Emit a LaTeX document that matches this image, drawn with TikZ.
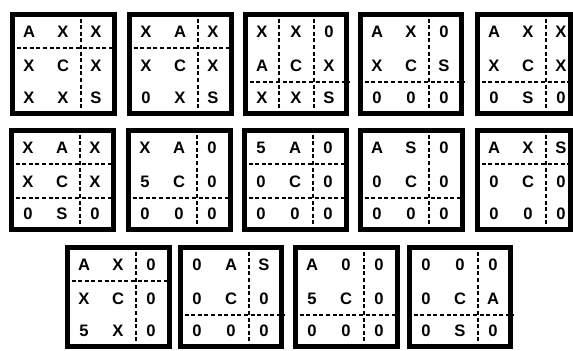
\documentclass[tikz,border=0pt]{standalone}
\usepackage{fontspec}
\setmainfont{Liberation Sans}
\usepackage{tikz}
\usetikzlibrary{calc}

\begin{document}
\begin{tikzpicture}[x=0.5pt,y=-0.5pt,
    board/.style={line width=2.4pt},
    gridline/.style={line width=0.6pt, dash pattern=on 2pt off 1.3pt},
    tile/.style={font=\bfseries\fontsize{8.3}{9}\selectfont, inner sep=0pt}]

\useasboundingbox (0,0) rectangle (573,350);

\def\H{104}

% Boards: number / left / top / width / nine tiles / dashed v1, h1, h2
\foreach \n/\bx/\by/\w/\ta/\tb/\tc/\td/\te/\tf/\tg/\th/\ti/\va/\ha/\hb in {
    1/10/12/107/A/X/X/X/C/X/X/X/S/0/1/0,
    2/127/12/107/X/A/X/X/C/X/0/X/S/0/1/0,
    3/243/12/106/X/X/0/A/C/X/X/X/S/1/0/1,
    4/358/12/106/A/X/0/X/C/S/0/0/0/0/0/1,
    5/475/12/98/A/X/X/X/C/X/0/S/0/0/0/1,
    6/9/128/107/X/A/X/X/C/X/0/S/0/0/1/1,
    7/126/128/107/X/A/0/5/C/0/0/0/0/0/0/1,
    8/242/128/107/5/A/0/0/C/0/0/0/0/0/1/1,
    9/358/128/107/A/S/0/0/C/0/0/0/0/0/0/1,
    10/475/128/98/A/X/S/0/C/0/0/0/0/0/1/0,
    11/65/245/107/A/X/0/X/C/0/5/X/0/0/1/0,
    12/178/245/106/0/A/S/0/C/0/0/0/0/0/0/1,
    13/293/245/107/A/0/0/5/C/0/0/0/0/0/0/1,
    14/407/245/106/0/0/0/0/C/A/0/S/0/0/0/1}
{
    % Dashed cell borders
    \draw[gridline] (\bx+71,\by) -- (\bx+71,\by+\H);
    \ifnum\va=1 \draw[gridline] (\bx+36,\by) -- (\bx+36,\by+\H); \fi
    \ifnum\ha=1 \draw[gridline] (\bx,\by+36) -- (\bx+\w,\by+36); \fi
    \ifnum\hb=1 \draw[gridline] (\bx,\by+70) -- (\bx+\w,\by+70); \fi

    % Frame
    \draw[board] (\bx+2.4,\by+2.4) rectangle (\bx+\w-2.4,\by+\H-2.4);

    % Tiles
    \node[tile] (b\n-1) at (\bx+19,\by+20) {\ta};
    \node[tile] (b\n-2) at (\bx+53,\by+20) {\tb};
    \node[tile] (b\n-3) at (\bx+86,\by+20) {\tc};
    \node[tile] (b\n-4) at (\bx+19,\by+54) {\td};
    \node[tile] (b\n-5) at (\bx+53,\by+54) {\te};
    \node[tile] (b\n-6) at (\bx+86,\by+54) {\tf};
    \node[tile] (b\n-7) at (\bx+19,\by+86) {\tg};
    \node[tile] (b\n-8) at (\bx+53,\by+86) {\th};
    \node[tile] (b\n-9) at (\bx+86,\by+86) {\ti};
}

\end{tikzpicture}
\end{document}
